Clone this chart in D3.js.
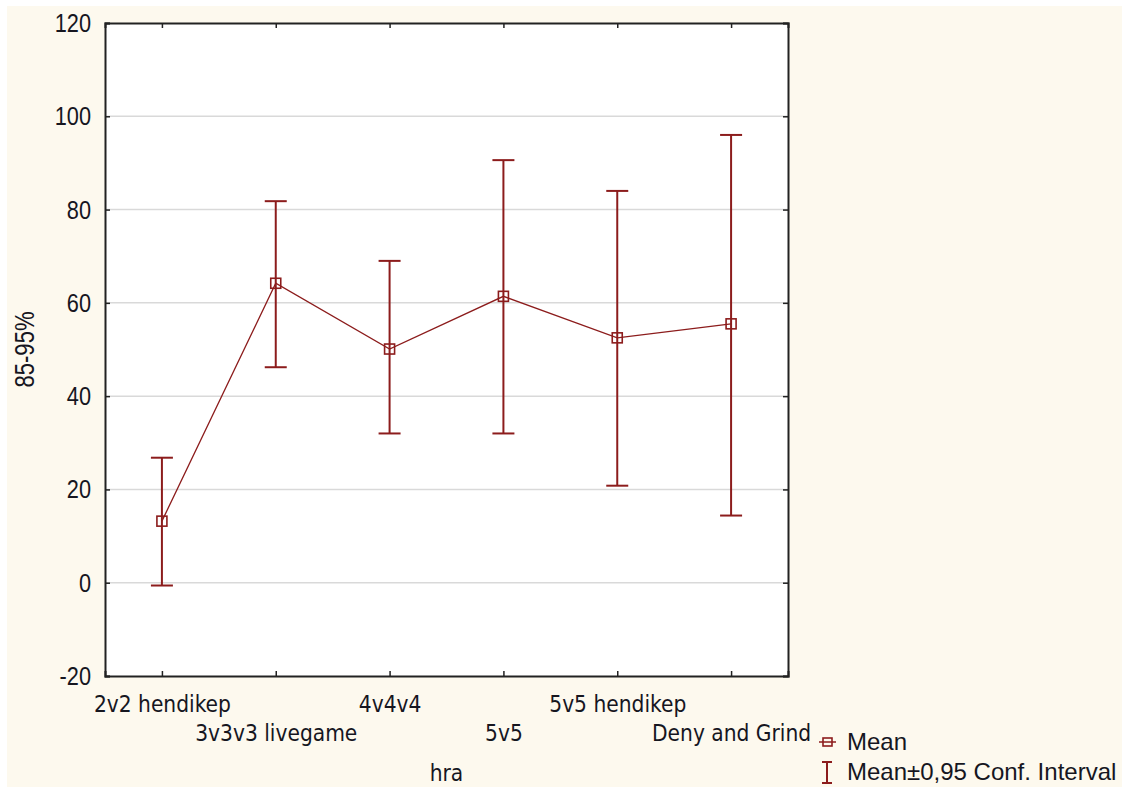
<!DOCTYPE html>
<html>
<head>
<meta charset="utf-8">
<script src="https://cdn.jsdelivr.net/npm/d3@7"></script>
<style>
  body { margin: 0; background: #fff; }
  svg { display: block; }
</style>
</head>
<body>
<script>
// chart values
var categories = ["2v2 hendikep", "3v3v3 livegame", "4v4v4", "5v5", "5v5 hendikep", "Deny and Grind"];
var means = [13.2, 64.2, 50.1, 61.4, 52.5, 55.5];
var upper = [26.8, 81.8, 69.0, 90.6, 84.0, 96.0];
var lower = [-0.6, 46.2, 32.0, 32.0, 20.8, 14.4];
var yTicks = [-20, 0, 20, 40, 60, 80, 100, 120];

var width = 1122, height = 787;
var plot = {left: 105, top: 23, right: 788, bottom: 676};
var red = "#8c1c1c", ink = "#16161f";

var data = categories.map(function(c, i) {
    return {cat: c, mean: means[i], hi: upper[i], lo: lower[i], i: i};
});

var svg = d3.select("body").append("svg")
    .attr("width", width)
    .attr("height", height);

// backgrounds
svg.append("rect").attr("width", width).attr("height", height).attr("fill", "#fff");
svg.append("rect").attr("x", 7).attr("y", 6)
    .attr("width", width - 7).attr("height", height - 6)
    .attr("fill", "#fdf9ee");
svg.append("rect")
    .attr("x", plot.left).attr("y", plot.top)
    .attr("width", plot.right - plot.left).attr("height", plot.bottom - plot.top)
    .attr("fill", "#fff");

// scales
var x = d3.scalePoint().domain(categories).range([plot.left, plot.right]).padding(0.5);
var y = d3.scaleLinear().domain([-20, 120]).range([plot.bottom, plot.top]);

// grid lines
svg.append("g")
    .selectAll("line")
    .data(yTicks.filter(function(t) { return t > -20 && t < 120; }))
    .enter().append("line")
    .attr("x1", plot.left).attr("x2", plot.right)
    .attr("y1", function(d) { return y(d); })
    .attr("y2", function(d) { return y(d); })
    .attr("stroke", "#d9d9d9")
    .attr("stroke-width", 1.5);

// axes, ticks pointing inwards
var yAxis = svg.append("g")
    .attr("transform", "translate(" + plot.left + ",0)")
    .call(d3.axisLeft(y).tickValues(yTicks).tickSize(-5).tickPadding(14)
        .tickFormat(function(d) { return String(d); }));
yAxis.selectAll("text")
    .attr("x", -14 / 0.82)
    .attr("transform", "scale(0.82,1)")
    .style("font-family", "'Liberation Sans', Arial, sans-serif")
    .style("font-size", "26.5px")
    .attr("fill", ink);

svg.append("g")
    .attr("transform", "translate(" + plot.right + ",0)")
    .call(d3.axisRight(y).tickValues(yTicks).tickSize(-5).tickFormat(""));

svg.append("g")
    .attr("transform", "translate(0," + plot.top + ")")
    .call(d3.axisTop(x).tickSize(-5).tickFormat(""));

var xAxis = svg.append("g")
    .attr("transform", "translate(0," + plot.bottom + ")")
    .call(d3.axisBottom(x).tickSize(-5).tickPadding(0));
xAxis.selectAll("text")
    .attr("y", function(d, i) { return i % 2 === 0 ? 36 : 65; })
    .attr("dy", 0)
    .style("font-family", "'DejaVu Sans Condensed', 'DejaVu Sans', sans-serif")
    .style("font-stretch", "condensed")
    .style("font-size", "22.5px")
    .attr("fill", ink);

svg.selectAll(".domain, .tick line")
    .attr("stroke", "#222")
    .attr("stroke-width", 1.5);
svg.selectAll(".domain").attr("stroke-width", 2);

// axis titles
svg.append("text")
    .attr("transform", "translate(34," + ((plot.top + plot.bottom) / 2) + ") rotate(-90) scale(0.82,1)")
    .attr("text-anchor", "middle")
    .style("font-family", "'Liberation Sans', Arial, sans-serif")
    .style("font-size", "27px")
    .attr("fill", ink)
    .text("85-95%");

svg.append("text")
    .attr("x", (plot.left + plot.right) / 2)
    .attr("y", 781)
    .attr("text-anchor", "middle")
    .style("font-family", "'DejaVu Sans Condensed', 'DejaVu Sans', sans-serif")
    .style("font-stretch", "condensed")
    .style("font-size", "22.5px")
    .attr("fill", ink)
    .text("hra");

// error bars
var bars = svg.append("g")
    .attr("stroke", red)
    .attr("stroke-width", 2)
    .attr("fill", "none");

bars.selectAll("line.stem")
    .data(data)
    .enter().append("line")
    .attr("class", "stem")
    .attr("x1", function(d) { return x(d.cat); })
    .attr("x2", function(d) { return x(d.cat); })
    .attr("y1", function(d) { return y(d.hi); })
    .attr("y2", function(d) { return y(d.lo); });

["hi", "lo"].forEach(function(k) {
    bars.selectAll("line.cap-" + k)
        .data(data)
        .enter().append("line")
        .attr("class", "cap-" + k)
        .attr("x1", function(d) { return x(d.cat) - 11; })
        .attr("x2", function(d) { return x(d.cat) + 11; })
        .attr("y1", function(d) { return y(d[k]); })
        .attr("y2", function(d) { return y(d[k]); });
});

// mean line and markers
var line = d3.line()
    .x(function(d) { return x(d.cat); })
    .y(function(d) { return y(d.mean); });

svg.append("path")
    .datum(data)
    .attr("d", line)
    .attr("fill", "none")
    .attr("stroke", red)
    .attr("stroke-width", 1.3);

svg.append("g")
    .selectAll("rect")
    .data(data)
    .enter().append("rect")
    .attr("x", function(d) { return x(d.cat) - 5; })
    .attr("y", function(d) { return y(d.mean) - 5; })
    .attr("width", 10)
    .attr("height", 10)
    .attr("fill", "none")
    .attr("stroke", red)
    .attr("stroke-width", 1.6);

// legend
var legend = svg.append("g")
    .style("font-family", "'Liberation Sans', Arial, sans-serif")
    .style("font-size", "24px")
    .attr("fill", ink);

legend.append("line")
    .attr("x1", 819).attr("x2", 836).attr("y1", 742).attr("y2", 742)
    .attr("stroke", red).attr("stroke-width", 1.5);
legend.append("rect")
    .attr("x", 823).attr("y", 738).attr("width", 9).attr("height", 8)
    .attr("fill", "none").attr("stroke", red).attr("stroke-width", 1.6);
legend.append("text").attr("x", 847).attr("y", 750).text("Mean");

legend.append("path")
    .attr("d", "M822,762H832M827,762V783M822,783H832")
    .attr("fill", "none").attr("stroke", red).attr("stroke-width", 2);
legend.append("text").attr("x", 847).attr("y", 780).text("Mean\u00b10,95 Conf. Interval");
</script>
</body>
</html>
